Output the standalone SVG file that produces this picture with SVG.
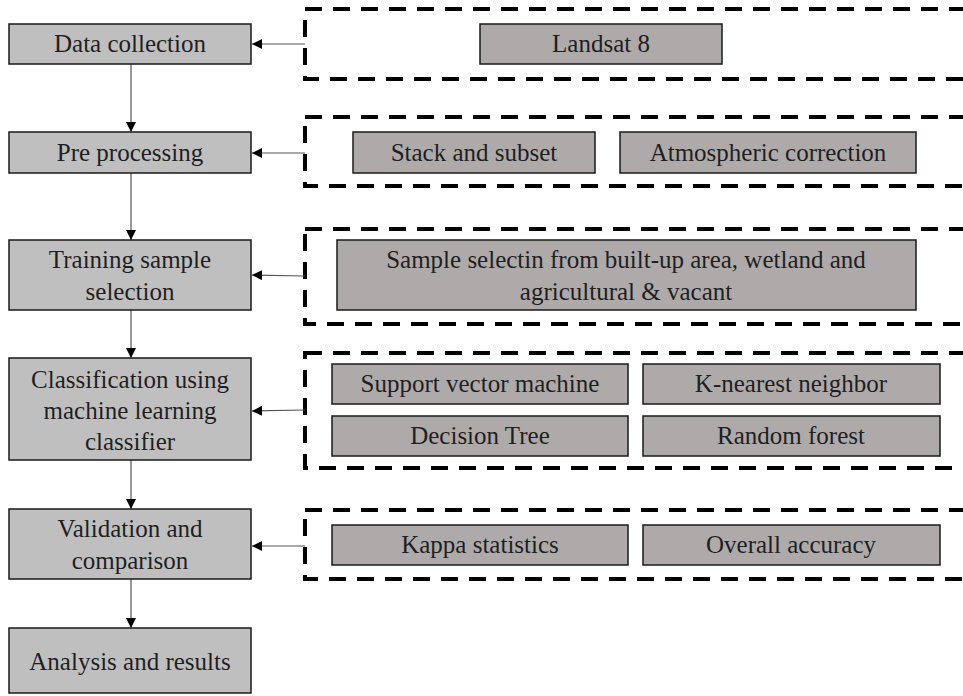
<svg xmlns="http://www.w3.org/2000/svg" width="963" height="696" viewBox="0 0 963 696">
<style>
.main{fill:#bfbfbf;stroke:#1a1a1a;stroke-width:1.5}
.sub{fill:#aeaaaa;stroke:#1a1a1a;stroke-width:1.5}
.grp{fill:none;stroke:#000;stroke-width:4;stroke-dasharray:17 11}
text{font-size:25px;fill:#1f1f1f;text-anchor:middle}
.c{stroke:#555;stroke-width:1.2;fill:none}
</style>
<defs>
<marker id="ah" viewBox="0 0 10 10" refX="10" refY="5" markerWidth="10" markerHeight="10" markerUnits="userSpaceOnUse" orient="auto">
<path d="M0,0 L10,5 L0,10 Z" fill="#000"/>
</marker>
</defs>
<g id="groups">
<rect class="grp" x="305" y="9" width="700" height="70"/>
<rect class="grp" x="305" y="117" width="700" height="69"/>
<rect class="grp" x="305" y="229" width="700" height="95"/>
<rect class="grp" x="305" y="353" width="700" height="115"/>
<rect class="grp" x="305" y="510" width="700" height="69"/>
</g>
<g id="connectors">
<line class="c" x1="131" y1="64" x2="131" y2="132" marker-end="url(#ah)"/>
<line class="c" x1="131" y1="173" x2="131" y2="240" marker-end="url(#ah)"/>
<line class="c" x1="131" y1="310" x2="131" y2="358" marker-end="url(#ah)"/>
<line class="c" x1="131" y1="460" x2="131" y2="509" marker-end="url(#ah)"/>
<line class="c" x1="131" y1="579" x2="131" y2="628" marker-end="url(#ah)"/>
<line class="c" x1="305" y1="44" x2="252" y2="44" marker-end="url(#ah)"/>
<line class="c" x1="305" y1="153" x2="252" y2="153" marker-end="url(#ah)"/>
<line class="c" x1="305" y1="276" x2="252" y2="275" marker-end="url(#ah)"/>
<line class="c" x1="305" y1="410" x2="252" y2="411" marker-end="url(#ah)"/>
<line class="c" x1="305" y1="546" x2="252" y2="546" marker-end="url(#ah)"/>
</g>
<g font-family="Liberation Serif, DejaVu Serif, serif">
<g id="n-data"><rect class="main" x="9" y="24" width="242" height="40"/><text x="130" y="52">Data collection</text></g>
<g id="n-pre"><rect class="main" x="9" y="132" width="242" height="41"/><text x="130" y="161">Pre processing</text></g>
<g id="n-train"><rect class="main" x="9" y="240" width="242" height="70"/><text x="130" y="268">Training sample</text><text x="130" y="300">selection</text></g>
<g id="n-class"><rect class="main" x="9" y="358" width="242" height="102"/><text x="130" y="388">Classification using</text><text x="130" y="419">machine learning</text><text x="130" y="450">classifier</text></g>
<g id="n-valid"><rect class="main" x="9" y="509" width="242" height="70"/><text x="130" y="537">Validation and</text><text x="130" y="569">comparison</text></g>
<g id="n-analysis"><rect class="main" x="9" y="628" width="242" height="65"/><text x="130" y="670">Analysis and results</text></g>
<g id="n-landsat"><rect class="sub" x="480" y="24" width="242" height="40"/><text x="601" y="52">Landsat 8</text></g>
<g id="n-stack"><rect class="sub" x="353" y="132" width="242" height="41"/><text x="474" y="161">Stack and subset</text></g>
<g id="n-atmos"><rect class="sub" x="620" y="132" width="296" height="41"/><text x="768" y="161">Atmospheric correction</text></g>
<g id="n-sample"><rect class="sub" x="337" y="240" width="579" height="70"/><text x="626" y="268">Sample selectin from built-up area, wetland and</text><text x="626" y="300">agricultural &amp; vacant</text></g>
<g id="n-svm"><rect class="sub" x="332" y="364" width="296" height="40"/><text x="480" y="392">Support vector machine</text></g>
<g id="n-knn"><rect class="sub" x="643" y="364" width="297" height="40"/><text x="791" y="392">K-nearest neighbor</text></g>
<g id="n-dt"><rect class="sub" x="332" y="416" width="296" height="40"/><text x="480" y="444">Decision Tree</text></g>
<g id="n-rf"><rect class="sub" x="643" y="416" width="297" height="40"/><text x="791" y="444">Random forest</text></g>
<g id="n-kappa"><rect class="sub" x="332" y="525" width="296" height="40"/><text x="480" y="553">Kappa statistics</text></g>
<g id="n-overall"><rect class="sub" x="643" y="525" width="297" height="40"/><text x="791" y="553">Overall accuracy</text></g>
</g>
</svg>
